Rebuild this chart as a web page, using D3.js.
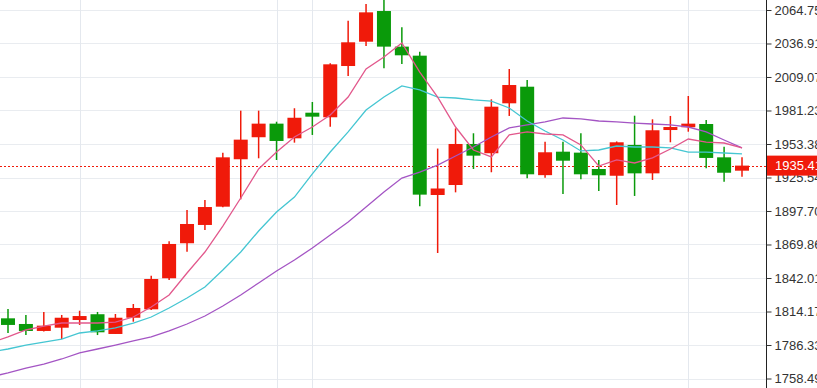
<!DOCTYPE html>
<html>
<head>
<meta charset="utf-8">
<script src="https://cdnjs.cloudflare.com/ajax/libs/d3/7.8.5/d3.min.js"></script>
<style>
  body { margin: 0; background: #fff; }
  svg { display: block; }
</style>
</head>
<body>
<svg id="chart" width="817" height="388"></svg>
<script>
// daily candles, left to right
var opens  = [1808.5,1803.8,1798.0,1800.7,1807.1,1811.9,1795.5,1809.0,1816.0,1841.8,1870.9,1886.1,1901.3,1940.7,1959.0,1970.3,1958.1,1979.4,1975.6,2018.2,2038.4,2063.9,2034.3,2026.8,1911.0,1919.3,1953.4,1945.7,1987.2,2001.0,1927.5,1947.0,1946.2,1932.6,1927.0,1952.6,1929.0,1965.0,1967.3,1970.0,1942.3,1931.2];
var highs  = [1816.3,1811.3,1813.8,1811.3,1814.8,1813.8,1812.1,1820.4,1843.9,1872.5,1898.5,1906.8,1946.2,1981.1,1981.1,1971.9,1983.1,1988.3,2020.5,2055.9,2069.7,2074.0,2050.4,2030.1,1949.6,1966.4,1962.3,1990.5,2015.7,2006.6,1955.3,1955.3,1962.3,1940.1,1955.5,1976.9,1973.9,1976.7,1993.3,1973.3,1951.1,1942.3];
var lows   = [1796.3,1794.6,1797.5,1791.3,1803.0,1794.6,1795.5,1805.7,1815.5,1840.4,1863.9,1881.9,1900.8,1907.4,1941.5,1940.1,1954.5,1960.9,1967.8,2009.9,2034.8,2016.3,2019.9,1901.6,1862.8,1913.2,1932.6,1929.9,1976.7,1924.9,1925.4,1911.8,1924.0,1914.3,1902.7,1910.2,1923.5,1954.8,1963.6,1933.2,1922.1,1926.2];
var closes = [1803.0,1798.0,1802.4,1809.0,1810.4,1796.9,1809.0,1817.1,1841.2,1870.3,1886.9,1901.0,1942.3,1957.0,1970.3,1955.9,1975.2,1976.1,2019.6,2037.9,2062.8,2034.3,2027.1,1911.3,1916.4,1953.4,1943.7,1984.4,2002.4,1928.2,1946.5,1939.5,1928.2,1927.4,1954.8,1929.0,1964.8,1967.5,1970.3,1941.8,1929.5,1935.41];

// moving averages, first value is the day before the first candle
var maFast = [1788.0,1793.0,1798.8,1802.1,1804.6,1804.6,1804.6,1805.4,1809.6,1817.9,1827.9,1846.2,1863.6,1885.2,1908.5,1932.6,1946.7,1959.2,1967.5,1977.5,1992.4,2015.7,2025.7,2037.3,2013.2,1992.4,1967.5,1948.4,1942.6,1960.9,1963.4,1961.7,1960.9,1952.6,1935.1,1940.1,1937.6,1941.8,1949.2,1957.5,1955.0,1954.2,1950.1];
var maMid  = [1780.5,1783.0,1786.3,1788.8,1791.3,1796.3,1798.0,1800.5,1804.6,1809.6,1817.1,1825.4,1834.5,1848.7,1863.6,1881.1,1896.9,1909.3,1928.5,1946.7,1963.4,1981.6,1992.4,2001.6,1998.3,1992.4,1991.6,1990.0,1989.1,1983.3,1972.5,1964.2,1956.7,1947.6,1948.4,1951.7,1950.9,1950.9,1950.1,1946.7,1946.7,1945.9,1945.1];
var maSlow = [1759.7,1763.1,1767.2,1770.5,1774.7,1779.7,1783.0,1786.3,1789.7,1793.0,1798.0,1803.8,1810.4,1818.7,1827.9,1837.9,1847.8,1857.0,1866.9,1877.8,1888.6,1901.0,1913.5,1925.1,1930.1,1935.9,1943.4,1950.9,1959.2,1966.7,1969.2,1971.7,1975.0,1974.2,1972.5,1971.7,1970.8,1970.0,1969.2,1967.5,1963.4,1956.7,1950.1];

var priceTicks = [2064.75,2036.91,2009.07,1981.23,1953.38,1925.54,1897.70,1869.86,1842.01,1814.17,1786.33,1758.49];
var gridDays = [4, 15, 17, 38];   // candles with a vertical grid line
var lastPrice = 1935.41;

var svg = d3.select("#chart"),
    axisX = 766.5,
    upColor = "#f01a0a",
    downColor = "#0a9a0a";

var x = d3.scaleLinear().domain([0, 41]).range([8, 742]);
var y = d3.scaleLinear().domain([1758.49, 2064.75]).range([378.5, 10]);

var candles = opens.map(function(o, i) {
  return {i: i, open: o, high: highs[i], low: lows[i], close: closes[i]};
});

var plot = svg.append("g");

// grid
plot.append("g").selectAll("line")
  .data(priceTicks)
  .enter().append("line")
    .attr("x1", 0).attr("x2", axisX)
    .attr("y1", function(d) { return Math.round(y(d)) + 0.5; })
    .attr("y2", function(d) { return Math.round(y(d)) + 0.5; })
    .attr("stroke", "#e9ecf0");

plot.append("g").selectAll("line")
  .data(gridDays)
  .enter().append("line")
    .attr("x1", function(d) { return Math.round(x(d)) + 0.5; })
    .attr("x2", function(d) { return Math.round(x(d)) + 0.5; })
    .attr("y1", 0).attr("y2", 388)
    .attr("stroke", "#e4e8ee");

// last price line
plot.append("line")
  .attr("x1", 0).attr("x2", axisX)
  .attr("y1", Math.round(y(lastPrice)) + 0.5)
  .attr("y2", Math.round(y(lastPrice)) + 0.5)
  .attr("stroke", upColor)
  .attr("stroke-dasharray", "2,2");

// candles
var c = plot.append("g").selectAll("g")
  .data(candles)
  .enter().append("g")
    .attr("fill", function(d) { return d.close >= d.open ? upColor : downColor; })
    .attr("stroke", function(d) { return d.close >= d.open ? upColor : downColor; });

c.append("line")
  .attr("x1", function(d) { return x(d.i); })
  .attr("x2", function(d) { return x(d.i); })
  .attr("y1", function(d) { return y(d.high); })
  .attr("y2", function(d) { return y(d.low); })
  .attr("stroke-width", 1.5);

c.append("rect")
  .attr("x", function(d) { return x(d.i) - 7; })
  .attr("width", 14)
  .attr("y", function(d) { return y(Math.max(d.open, d.close)); })
  .attr("height", function(d) { return Math.max(1.5, Math.abs(y(d.open) - y(d.close))); })
  .attr("stroke", "none");

// moving averages
var maLine = d3.line()
  .x(function(d, i) { return x(i - 1); })
  .y(function(d) { return y(d); });

[[maSlow, "#a455c4"], [maMid, "#45c6d2"], [maFast, "#e2588c"]].forEach(function(m) {
  plot.append("path")
    .datum(m[0])
    .attr("d", maLine)
    .attr("fill", "none")
    .attr("stroke", m[1])
    .attr("stroke-width", 1.3);
});

// price axis on the right
var axis = svg.append("g")
  .attr("transform", "translate(" + axisX + ",0)")
  .call(d3.axisRight(y).tickValues(priceTicks).tickFormat(d3.format(".2f")).tickSize(5).tickPadding(3));

axis.select(".domain").attr("d", "M0,0V388").attr("stroke", "#222");
axis.selectAll(".tick line").attr("stroke", "#333");
axis.selectAll("text")
  .attr("font-family", "'Liberation Sans', Arial, sans-serif")
  .attr("font-size", 13)
  .attr("fill", "#333");

// last price tag
var tag = svg.append("g")
  .attr("transform", "translate(" + (axisX + 0.5) + "," + y(lastPrice) + ")");

tag.append("rect")
  .attr("x", 0).attr("y", -10)
  .attr("width", 60).attr("height", 20)
  .attr("fill", upColor);

tag.append("text")
  .attr("x", 8)
  .attr("dy", "0.35em")
  .attr("font-family", "'Liberation Sans', Arial, sans-serif")
  .attr("font-size", 13)
  .attr("fill", "#fff")
  .text(d3.format(".2f")(lastPrice));
</script>
</body>
</html>
